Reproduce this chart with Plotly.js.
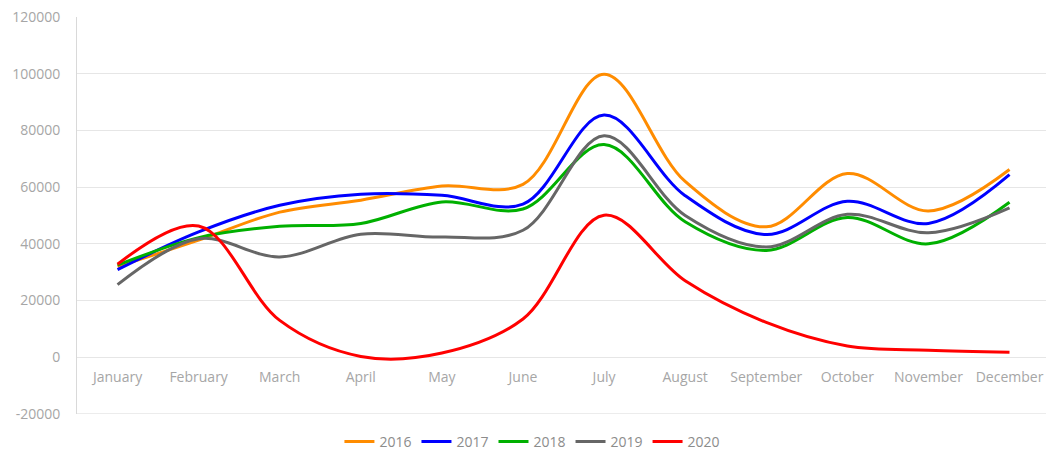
<!DOCTYPE html>
<html>
<head>
<meta charset="utf-8">
<script src="https://cdn.plot.ly/plotly-3.0.1.min.js"></script>
<style>html,body{margin:0;padding:0;background:#fff;}#chart{width:1046px;height:452px;}</style>
</head>
<body>
<div id="chart"></div>
<script>
const months = ["January","February","March","April","May","June","July","August","September","October","November","December"];
const seriesNames = ["2016","2017","2018","2019","2020"];
const v2016 = [32000, 41300, 51200, 55400, 60400, 61000, 99800, 62000, 46000, 64800, 51600, 66200];
const v2017 = [30900, 44200, 53600, 57500, 57100, 54000, 85400, 57000, 43300, 55000, 47200, 64400];
const v2018 = [32500, 42200, 46200, 47200, 54800, 52300, 75000, 47800, 37700, 49300, 40000, 54700];
const v2019 = [25600, 41800, 35400, 43400, 42400, 44800, 78100, 50000, 38900, 50400, 43900, 52700];
const v2020 = [32800, 46300, 13000, 300, 1500, 13500, 50100, 27000, 12300, 4000, 2500, 1800];
const yTicks = [-20000, 0, 20000, 40000, 60000, 80000, 100000, 120000];

const colors = ["#FF8C00", "#0000FF", "#00B000", "#666666", "#FF0000"];
const allValues = [v2016, v2017, v2018, v2019, v2020];

const traces = allValues.map((vals, i) => ({
  type: "scatter",
  mode: "lines",
  name: seriesNames[i],
  x: months,
  y: vals,
  line: {color: colors[i], width: 3, shape: "spline", smoothing: 1},
  hoverinfo: "x+y+name"
}));

const tickFont = {family: "Open Sans, sans-serif", size: 14, color: "#a6a6a6"};

const layout = {
  width: 1046,
  height: 452,
  margin: {l: 77, r: 0, t: 17, b: 38, autoexpand: false},
  paper_bgcolor: "#ffffff",
  plot_bgcolor: "#ffffff",
  showlegend: true,
  legend: {
    orientation: "h",
    x: 0.47, xanchor: "center",
    y: -0.07, yanchor: "middle",
    font: {family: "Open Sans, sans-serif", size: 14, color: "#8c8c8c"},
    itemwidth: 30,
    tracegroupgap: 0
  },
  xaxis: {
    type: "category",
    range: [-0.5, 11.45],
    showgrid: false,
    zeroline: false,
    showline: false,
    anchor: "free",
    position: 1/7,
    ticks: "",
    ticklabelstandoff: 10,
    tickfont: tickFont,
    fixedrange: true
  },
  yaxis: {
    range: [-20000, 120000],
    tickvals: yTicks,
    ticktext: yTicks.map(String),
    showgrid: true,
    gridcolor: "#e6e6e6",
    gridwidth: 1,
    zeroline: false,
    showline: true,
    linecolor: "#d9d9d9",
    linewidth: 1,
    ticks: "",
    ticklabelstandoff: 13,
    tickfont: tickFont,
    fixedrange: true
  },
  shapes: [
    {type: "line", xref: "paper", yref: "y", x0: 0, x1: 1, y0: -20000, y1: -20000,
     line: {color: "#d9d9d9", width: 1}, layer: "below"}
  ]
};

Plotly.newPlot("chart", traces, layout, {displayModeBar: false, staticPlot: true});
</script>
</body>
</html>
